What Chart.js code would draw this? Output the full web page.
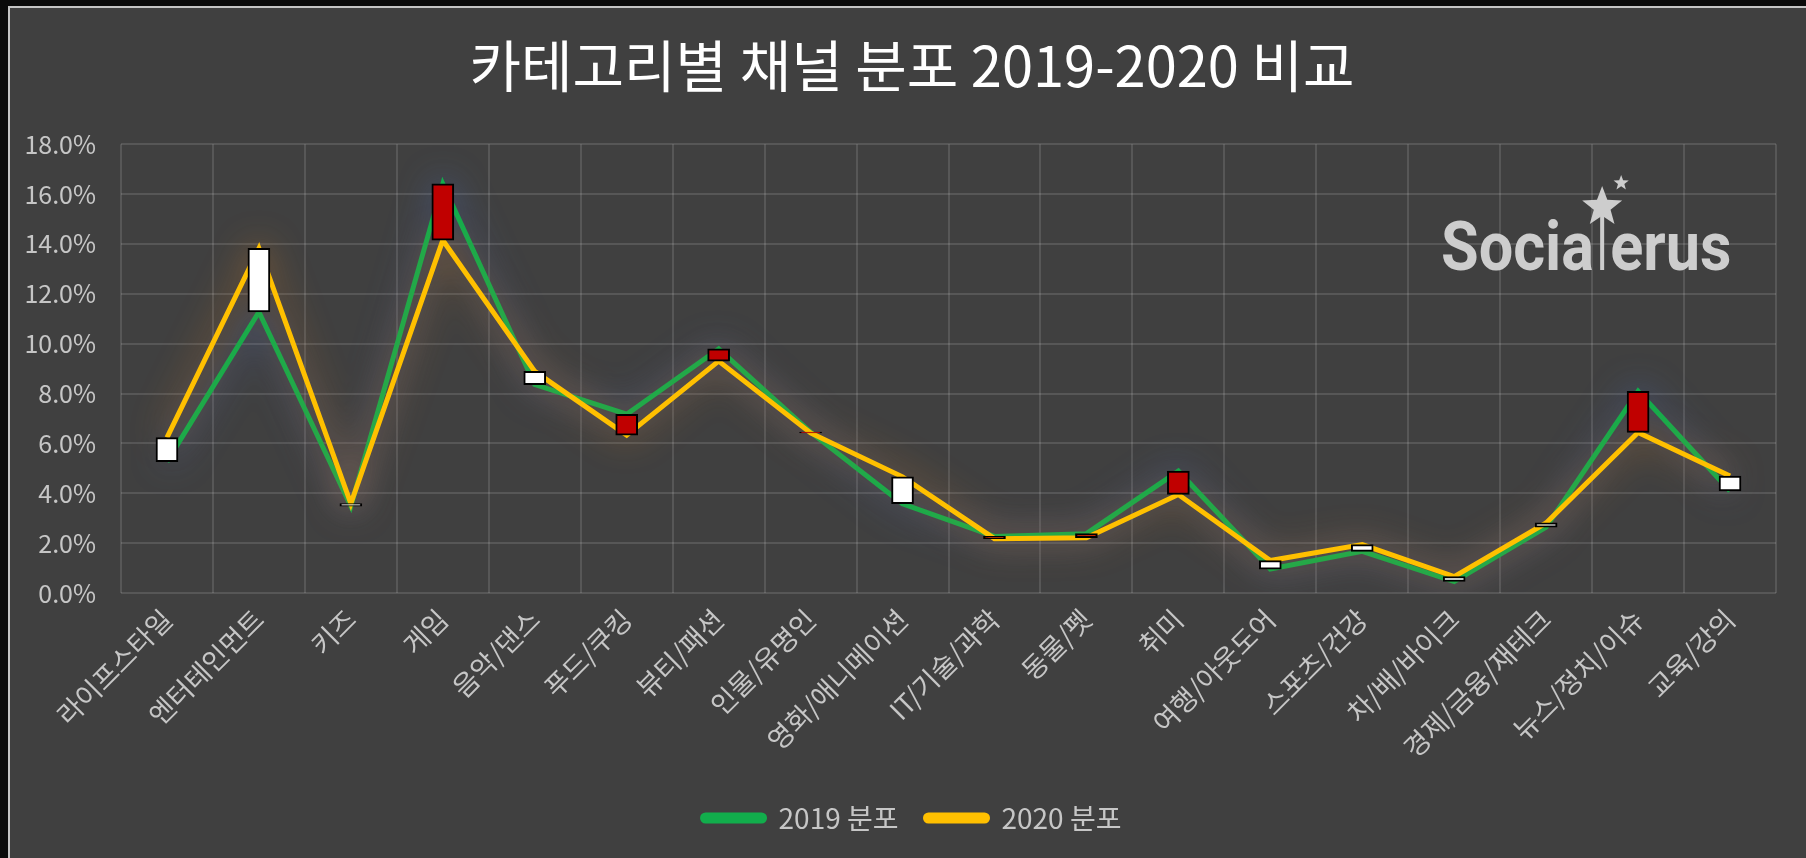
<!DOCTYPE html>
<html>
<head>
<meta charset="utf-8">
<script src="https://cdn.jsdelivr.net/npm/chart.js@4"></script>
<style>
  html, body { margin: 0; padding: 0; background: #0a0a0a; overflow: hidden; }
  #frame {
    position: absolute; left: 8px; top: 6px;
    width: 1798px; height: 852px;
    border-left: 2px solid #c4c4c4; border-top: 2px solid #c4c4c4;
    background: #404040;
  }
  #wrap { position: absolute; left: 0; top: 0; width: 1796px; height: 850px; }
</style>
</head>
<body>
<div id="frame"><div id="wrap"><canvas id="myChart"></canvas></div></div>
<script>
const categories = ['라이프스타일', '엔터테인먼트', '키즈', '게임', '음악/댄스', '푸드/쿠킹', '뷰티/패션',
  '인물/유명인', '영화/애니메이션', 'IT/기술/과학', '동물/펫', '취미', '여행/아웃도어', '스포츠/건강',
  '차/배/바이크', '경제/금융/재테크', '뉴스/정치/이슈', '교육/강의'];
const share2019 = [5.27, 11.27, 3.48, 16.41, 8.36, 7.17, 9.79, 6.45, 3.58, 2.27, 2.38, 4.89, 0.96, 1.67, 0.46, 2.64, 8.09, 4.09];
const share2020 = [6.23, 13.82, 3.59, 14.15, 8.89, 6.33, 9.30, 6.42, 4.66, 2.18, 2.22, 3.95, 1.30, 1.94, 0.66, 2.81, 6.44, 4.69];
const seriesNames = ['2019 분포', '2020 분포'];
const chartTitle = '카테고리별 채널 분포 2019-2020 비교';

const FONT = "'Noto Sans CJK KR', 'Noto Sans', sans-serif";
const GREEN = '#12ad4c';
const YELLOW = '#ffc000';

// up/down bars between the two years
const updown = share2019.map((v, i) => [Math.min(v, share2020[i]), Math.max(v, share2020[i])]);
const updownColors = share2019.map((v, i) => share2020[i] >= v ? '#ffffff' : '#c00000');

// glow round the lines
const glow = {
  id: 'glow',
  beforeDatasetDraw(chart, args) {
    const ds = chart.data.datasets[args.index];
    if (!ds.glowColor) return;
    chart.ctx.save();
    chart.ctx.shadowColor = ds.glowColor;
    chart.ctx.shadowBlur = 34;
  },
  afterDatasetDraw(chart, args) {
    const ds = chart.data.datasets[args.index];
    if (!ds.glowColor) return;
    chart.ctx.restore();
  }
};

// logo watermark
const logo = {
  id: 'logo',
  beforeDatasetsDraw(chart) {
    const ctx = chart.ctx;
    const sx = 0.9;
    const x0 = 1431, y0 = 262;
    ctx.save();
    ctx.fillStyle = '#cdcdcd';
    ctx.font = "bold 68px Roboto, 'Liberation Sans', sans-serif";
    ctx.textBaseline = 'alphabetic';
    ctx.translate(x0, y0);
    ctx.scale(sx, 1);
    ctx.fillText('Socia', 0, 0);
    const wa = ctx.measureText('Socia').width;
    const wl = ctx.measureText('l').width;
    ctx.fillText('erus', wa + wl, 0);
    ctx.restore();

    const star = (cx, cy, r) => {
      ctx.beginPath();
      for (let k = 0; k < 10; k++) {
        const rr = k % 2 === 0 ? r : r * 0.42;
        const a = -Math.PI / 2 + k * Math.PI / 5;
        ctx.lineTo(cx + rr * Math.cos(a), cy + rr * Math.sin(a));
      }
      ctx.closePath();
      ctx.fill();
    };
    ctx.save();
    ctx.fillStyle = '#cdcdcd';
    const cx = x0 + (wa + wl / 2) * sx;
    ctx.fillRect(cx - 2, 205, 4, y0 - 205);
    star(cx, 199, 21);
    star(cx + 19, 175, 8);
    ctx.restore();
  }
};

new Chart(document.getElementById('myChart'), {
  data: {
    labels: categories,
    datasets: [
      {
        type: 'bar',
        label: 'updown',
        data: updown,
        backgroundColor: updownColors,
        borderColor: '#000000',
        borderWidth: 2,
        borderSkipped: false,
        barThickness: 22,
        order: 0
      },
      {
        type: 'line',
        label: seriesNames[1],
        data: share2020,
        borderColor: YELLOW,
        backgroundColor: YELLOW,
        borderWidth: 5,
        pointRadius: 0,
        tension: 0,
        glowColor: 'rgba(215,130,40,0.9)',
        order: 1
      },
      {
        type: 'line',
        label: seriesNames[0],
        data: share2019,
        borderColor: GREEN,
        backgroundColor: GREEN,
        borderWidth: 5,
        pointRadius: 0,
        tension: 0,
        glowColor: 'rgba(80,115,200,0.9)',
        order: 2
      }
    ]
  },
  options: {
    responsive: true,
    maintainAspectRatio: false,
    animation: false,
    layout: { padding: { left: 8, right: 0, top: 0, bottom: 16 } },
    scales: {
      x: {
        offset: true,
        grid: { color: 'rgba(255,255,255,0.12)', lineWidth: 2, offset: true, drawTicks: false },
        border: { display: false },
        ticks: {
          color: '#c6c6c6',
          font: { family: FONT, size: 27 },
          minRotation: 45, maxRotation: 45,
          padding: 10,
          autoSkip: false
        },
        afterFit(scale) { scale.height = 184; }
      },
      y: {
        min: 0, max: 18,
        grid: { color: 'rgba(255,255,255,0.12)', lineWidth: 2, drawTicks: false },
        border: { display: false },
        ticks: {
          stepSize: 2,
          color: '#c6c6c6',
          font: { family: FONT, size: 25 },
          padding: 25,
          callback: v => v.toFixed(1) + '%'
        },
        afterFit(scale) { scale.width = 103; }
      },
      yRight: {
        position: 'right',
        display: true,
        grid: { display: false, drawTicks: false },
        border: { display: false },
        ticks: { display: false },
        afterFit(scale) { scale.width = 30; }
      }
    },
    plugins: {
      title: {
        display: true,
        text: chartTitle,
        color: '#ffffff',
        font: { family: FONT, size: 56, weight: 'normal' },
        padding: { top: 24, bottom: 45 }
      },
      legend: {
        position: 'bottom',
        labels: {
          color: '#c6c6c6',
          font: { family: FONT, size: 28 },
          boxWidth: 62,
          boxHeight: 6,
          padding: 27,
          useBorderRadius: true,
          borderRadius: 3,
          filter: item => item.text !== 'updown',
          sort: (a, b) => a.text.localeCompare(b.text)
        }
      },
      tooltip: { enabled: false }
    }
  },
  plugins: [glow, logo]
});
</script>
</body>
</html>
